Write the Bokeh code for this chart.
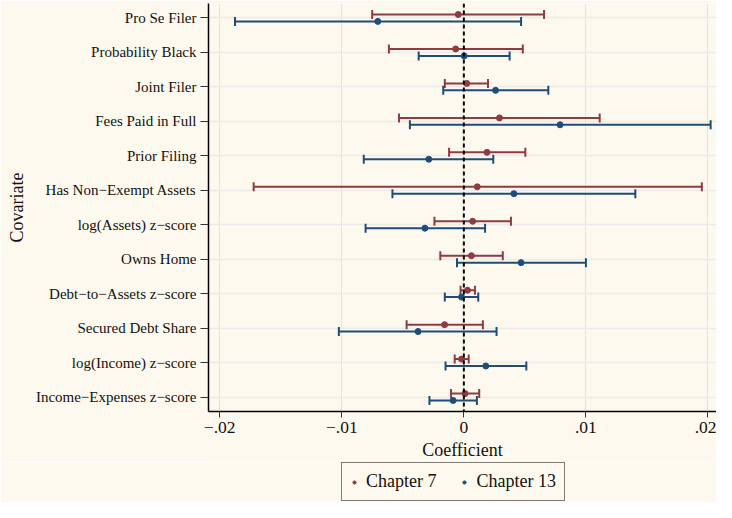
from bokeh.plotting import figure
from bokeh.layouts import column
from bokeh.models import (ColumnDataSource, FactorRange, Range1d, Whisker, TeeHead,
                          Span, Legend, LegendItem, FixedTicker)
from bokeh.transform import dodge
from bokeh.embed import file_html
from bokeh.resources import INLINE

covariates = ["Pro Se Filer", "Probability Black", "Joint Filer", "Fees Paid in Full",
              "Prior Filing", "Has Non\u2212Exempt Assets", "log(Assets) z\u2212score",
              "Owns Home", "Debt\u2212to\u2212Assets z\u2212score", "Secured Debt Share",
              "log(Income) z\u2212score", "Income\u2212Expenses z\u2212score"]

ch7_coef = [-0.00046, -0.00067, 0.00024, 0.00292, 0.00190, 0.00110, 0.00072, 0.00062, 0.00030, -0.00158, -0.00019, 0.00010]
ch7_lo = [-0.00751, -0.00614, -0.00156, -0.00531, -0.00121, -0.01722, -0.00241, -0.00193, -0.00027, -0.00469, -0.00075, -0.00105]
ch7_hi = [0.00657, 0.00483, 0.00198, 0.01113, 0.00504, 0.01950, 0.00386, 0.00319, 0.00091, 0.00156, 0.00040, 0.00126]

ch13_coef = [-0.00705, 0.00003, 0.00260, 0.00788, -0.00287, 0.00410, -0.00319, 0.00469, -0.00019, -0.00375, 0.00180, -0.00088]
ch13_lo = [-0.01875, -0.00370, -0.00169, -0.00442, -0.00820, -0.00585, -0.00805, -0.00056, -0.00156, -0.01024, -0.00150, -0.00282]
ch13_hi = [0.00469, 0.00375, 0.00692, 0.02022, 0.00241, 0.01405, 0.00174, 0.01000, 0.00118, 0.00268, 0.00512, 0.00107]

x_ticks = [-0.02, -0.01, 0, 0.01, 0.02]
x_tick_labels = ["\u2212.02", "\u2212.01", "0", ".01", ".02"]

series_names = ["Chapter 7", "Chapter 13"]

RED = "#903a42"
BLUE = "#1f4d78"
BG = "#fdf9ee"
FONT = "Liberation Serif"

fig = figure(width=716, height=462,
             y_range=FactorRange(factors=covariates[::-1], range_padding=-0.08,
                                 range_padding_units="absolute"),
             x_range=Range1d(-0.02092, 0.0207),
             output_backend="svg", toolbar_location=None,
             min_border_left=208, min_border_right=0, min_border_top=3, min_border_bottom=0)

fig.background_fill_color = BG
fig.border_fill_color = BG
fig.outline_line_color = None

fig.xgrid.grid_line_color = "#e4e4e4"
fig.ygrid.grid_line_color = "#ebebeb"
fig.xgrid.grid_line_width = 1
fig.ygrid.grid_line_width = 1.5

fig.add_layout(Span(location=0, dimension="height", line_color="black",
                    line_dash="4 3", line_width=2))

# legend strip below the chart (frame aligned with the chart's frame)
leg = figure(width=716, height=40, x_range=Range1d(10, 11), y_range=Range1d(10, 11),
             output_backend="svg", toolbar_location=None,
             x_axis_location=None, y_axis_location=None,
             min_border_left=208, min_border_right=0, min_border_top=0, min_border_bottom=0)
leg.background_fill_color = BG
leg.border_fill_color = BG
leg.outline_line_color = None
leg.grid.visible = False

leg_renderers = []
for coef, lo, hi, col, off in [(ch7_coef, ch7_lo, ch7_hi, RED, 0.1),
                               (ch13_coef, ch13_lo, ch13_hi, BLUE, -0.1)]:
    src = ColumnDataSource(dict(cov=covariates, coef=coef, lo=lo, hi=hi))
    ypos = dodge("cov", off, range=fig.y_range)
    w = Whisker(source=src, base=ypos, lower="lo", upper="hi", dimension="width",
                line_color=col, line_width=2,
                upper_head=TeeHead(size=9, line_color=col, line_width=2),
                lower_head=TeeHead(size=9, line_color=col, line_width=2))
    fig.add_layout(w)
    fig.scatter(x="coef", y=ypos, source=src, size=6, color=col)
    # same series drawn (out of view) in the legend strip, for its legend entry
    leg_renderers.append(leg.scatter(x="coef", y="coef", source=src, size=6, color=col))

legend = Legend(items=[LegendItem(label=series_names[0], renderers=[leg_renderers[0]]),
                       LegendItem(label=series_names[1], renderers=[leg_renderers[1]])],
                orientation="horizontal", location=(133, 1))
legend.label_text_font = FONT
legend.label_text_font_size = "18px"
legend.label_text_color = "#111111"
legend.glyph_width = 8
legend.glyph_height = 10
legend.label_standoff = 8
legend.spacing = 24
legend.padding = 8
legend.margin = 0
legend.border_line_color = "black"
legend.border_line_width = 1
legend.background_fill_color = BG
legend.background_fill_alpha = 1
leg.add_layout(legend)

fig.xaxis.ticker = FixedTicker(ticks=x_ticks)
fig.xaxis.major_label_overrides = dict(zip(x_ticks, x_tick_labels))
fig.xaxis.axis_label = "Coefficient"
fig.yaxis.axis_label = "Covariate"

for ax in (fig.xaxis, fig.yaxis):
    ax.axis_line_color = "black"
    ax.axis_line_width = 1.5
    ax.major_tick_line_color = "#333333"
    ax.major_tick_in = 0
    ax.minor_tick_line_color = None
    ax.axis_label_text_font = FONT
    ax.axis_label_text_font_style = "normal"
    ax.axis_label_text_font_size = "18px"
    ax.axis_label_text_color = "#111111"
    ax.major_label_text_font = FONT
    ax.major_label_text_color = "#111111"

fig.xaxis.major_tick_out = 6
fig.xaxis.major_label_standoff = 4
fig.xaxis.major_label_text_font_size = "17.5px"
fig.xaxis.axis_label_standoff = 4
fig.yaxis.major_tick_out = 8
fig.yaxis.major_label_standoff = 4
fig.yaxis.major_label_text_font_size = "15px"
fig.yaxis.axis_label_standoff = 6

p = column(fig, leg, spacing=0)

open("out.html", "w").write(file_html(p, INLINE))
